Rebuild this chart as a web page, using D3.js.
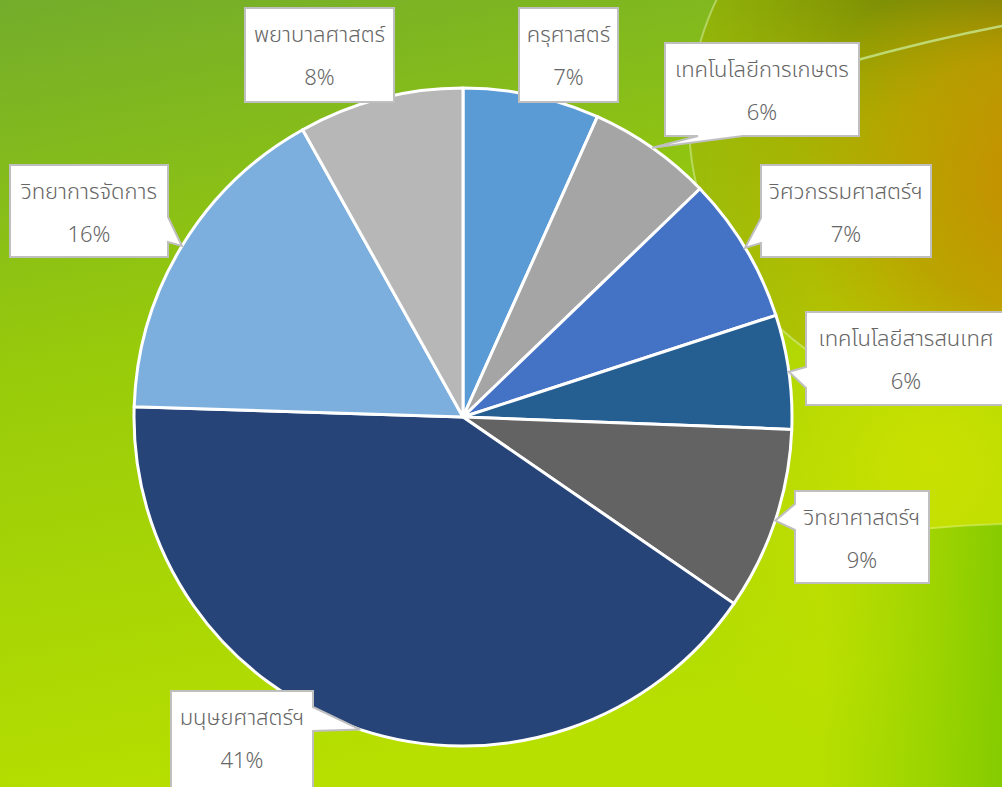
<!DOCTYPE html>
<html>
<head>
    <meta charset="utf-8">
    <title>Pie</title>
    <script src="https://d3js.org/d3.v7.min.js"></script>
    <style>
        body { margin: 0; overflow: hidden; }
        svg { display: block; }
        .lbl { font-family: "Noto Sans Thai", "Leelawadee UI", "Tahoma", "Noto Sans", sans-serif; font-size: 22px; font-weight: 300; fill: #666666; }
    </style>
</head>
<body>
<svg id="chart" width="1002" height="787"></svg>
<script>
    // data
    var faculties = ["ครุศาสตร์", "เทคโนโลยีการเกษตร", "วิศวกรรมศาสตร์ฯ", "เทคโนโลยีสารสนเทศ",
        "วิทยาศาสตร์ฯ", "มนุษยศาสตร์ฯ", "วิทยาการจัดการ", "พยาบาลศาสตร์"];
    var shares = [6.7, 6.1, 7.2, 5.6, 9.0, 40.9, 16.4, 8.1];
    var colors = ["#5B9BD5", "#A5A5A5", "#4472C4", "#255E91", "#636363", "#264478", "#7CAFDD", "#B7B7B7"];

    // callout layout (box + which side the pointer leaves from)
    var boxes = [
        { x: 519, y: 8, w: 99, h: 94, side: null },
        { x: 665, y: 43, w: 194, h: 93, side: "bottom", a: 33, b: 78 },
        { x: 761, y: 165, w: 170, h: 92, side: "left", a: 53, b: 78 },
        { x: 806, y: 312, w: 200, h: 93, side: "left", a: 55, b: 76 },
        { x: 795, y: 491, w: 134, h: 92, side: "left", a: 13, b: 39 },
        { x: 171, y: 691, w: 142, h: 100, side: "right", a: 16, b: 40 },
        { x: 10, y: 165, w: 158, h: 92, side: "right", a: 52, b: 77 },
        { x: 245, y: 8, w: 149, h: 94, side: null }
    ];

    var width = 1002, height = 787;
    var cx = 463, cy = 417, radius = 329;

    var svg = d3.select("#chart");
    var defs = svg.append("defs");

    function linGrad(id, x1, y1, x2, y2, stops) {
        var gr = defs.append("linearGradient").attr("id", id)
            .attr("x1", x1).attr("y1", y1).attr("x2", x2).attr("y2", y2);
        stops.forEach(function(s) {
            gr.append("stop").attr("offset", s[0]).attr("stop-color", s[1]).attr("stop-opacity", s[2] == null ? 1 : s[2]);
        });
    }
    function radGrad(id, gx, gy, r, stops) {
        var gr = defs.append("radialGradient").attr("id", id)
            .attr("gradientUnits", "userSpaceOnUse")
            .attr("cx", gx).attr("cy", gy).attr("r", r);
        stops.forEach(function(s) {
            gr.append("stop").attr("offset", s[0]).attr("stop-color", s[1]).attr("stop-opacity", s[2] == null ? 1 : s[2]);
        });
    }

    // ---- background ----
    linGrad("bg", 0, 0, 0.25, 1, [[0, "#73ad2b"], [0.45, "#98cb0a"], [1, "#b7df00"]]);
    radGrad("glowR", 930, 460, 300, [[0, "#cde200", 0.9], [1, "#cde200", 0]]);
    linGrad("inner", 0, 0, 0, 1, [[0, "#4a5c08"], [0.3, "#6f7c06"], [0.5, "#a9a000"], [0.7, "#bcb400"], [1, "#c4d000"]]);
    radGrad("gold", 1010, 180, 220, [[0, "#c68f00"], [0.55, "#c09800", 0.85], [1, "#bf9a00", 0]]);
    linGrad("fadeL", 0, 0, 1, 0, [[0, "#96c00c", 0.85], [0.35, "#a6c000", 0.3], [0.6, "#a6c000", 0]]);
    linGrad("lowR", 0, 0, 1, 0, [[0, "#86cc00", 0], [1, "#7cc800", 0.85]]);

    svg.append("rect").attr("width", width).attr("height", height).attr("fill", "url(#bg)");
    svg.append("rect").attr("width", width).attr("height", height).attr("fill", "url(#glowR)");

    // big soft circle top-right
    var bc = { x: 970, y: 121, r: 281 };
    defs.append("clipPath").attr("id", "bigc")
        .append("circle").attr("cx", bc.x).attr("cy", bc.y).attr("r", bc.r);
    var inner = svg.append("g").attr("clip-path", "url(#bigc)");
    inner.append("rect").attr("x", 689).attr("y", -160).attr("width", 562).attr("height", 562).attr("fill", "url(#inner)");
    inner.append("rect").attr("width", width).attr("height", height).attr("fill", "url(#gold)");
    inner.append("rect").attr("x", 689).attr("y", -160).attr("width", 562).attr("height", 562).attr("fill", "url(#fadeL)");

    svg.append("circle").attr("cx", bc.x).attr("cy", bc.y).attr("r", bc.r)
        .attr("fill", "none").attr("stroke", "#d6ee9a").attr("stroke-opacity", 0.55).attr("stroke-width", 2);
    svg.append("path").attr("d", "M850,62 Q930,40 1002,26")
        .attr("fill", "none").attr("stroke", "#c8e890").attr("stroke-opacity", 0.8).attr("stroke-width", 2.5);

    // greener lower right band
    svg.append("path").attr("d", "M820,548 Q900,528 1002,524 L1002,787 L820,787 Z")
        .attr("fill", "url(#lowR)");
    svg.append("path").attr("d", "M840,540 Q920,526 1002,524")
        .attr("fill", "none").attr("stroke", "#e4f6a0").attr("stroke-opacity", 0.4).attr("stroke-width", 2);

    // ---- pie ----
    var pie = d3.pie().sort(null).value(function(d) { return d; });
    var arcs = pie(shares);
    var arc = d3.arc().innerRadius(0).outerRadius(radius);

    var g = svg.append("g").attr("transform", "translate(" + cx + "," + cy + ")");

    g.selectAll("path.slice")
        .data(arcs)
        .enter()
        .append("path")
        .attr("class", "slice")
        .attr("d", arc)
        .attr("fill", function(d, i) { return colors[i]; })
        .attr("stroke", "#ffffff")
        .attr("stroke-width", 3)
        .attr("stroke-linejoin", "round");

    // ---- callouts ----
    function calloutPath(b, tip) {
        var x0 = b.x, y0 = b.y, x1 = b.x + b.w, y1 = b.y + b.h;
        var p = "M" + x0 + "," + y0 + " L" + x1 + "," + y0;
        if (b.side === "right") {
            p += " L" + x1 + "," + (y0 + b.a) + " L" + tip[0] + "," + tip[1] + " L" + x1 + "," + (y0 + b.b);
        }
        p += " L" + x1 + "," + y1;
        if (b.side === "bottom") {
            p += " L" + (x0 + b.b) + "," + y1 + " L" + tip[0] + "," + tip[1] + " L" + (x0 + b.a) + "," + y1;
        }
        p += " L" + x0 + "," + y1;
        if (b.side === "left") {
            p += " L" + x0 + "," + (y0 + b.b) + " L" + tip[0] + "," + tip[1] + " L" + x0 + "," + (y0 + b.a);
        }
        return p + " Z";
    }

    var labels = svg.append("g");
    arcs.forEach(function(d, i) {
        var b = boxes[i];
        var mid = (d.startAngle + d.endAngle) / 2;
        var tip = [cx + radius * Math.sin(mid), cy - radius * Math.cos(mid)];
        labels.append("path")
            .attr("d", calloutPath(b, tip))
            .attr("fill", "#ffffff")
            .attr("stroke", "#bfbfbf")
            .attr("stroke-width", 2)
            .attr("stroke-linejoin", "miter");
        labels.append("text").attr("class", "lbl")
            .attr("x", b.x + b.w / 2).attr("y", b.y + 27)
            .attr("text-anchor", "middle").attr("dominant-baseline", "central")
            .text(faculties[i]);
        labels.append("text").attr("class", "lbl")
            .attr("x", b.x + b.w / 2).attr("y", b.y + 70)
            .attr("text-anchor", "middle").attr("dominant-baseline", "central")
            .text(Math.round(shares[i]) + "%");
    });
</script>
</body>
</html>
